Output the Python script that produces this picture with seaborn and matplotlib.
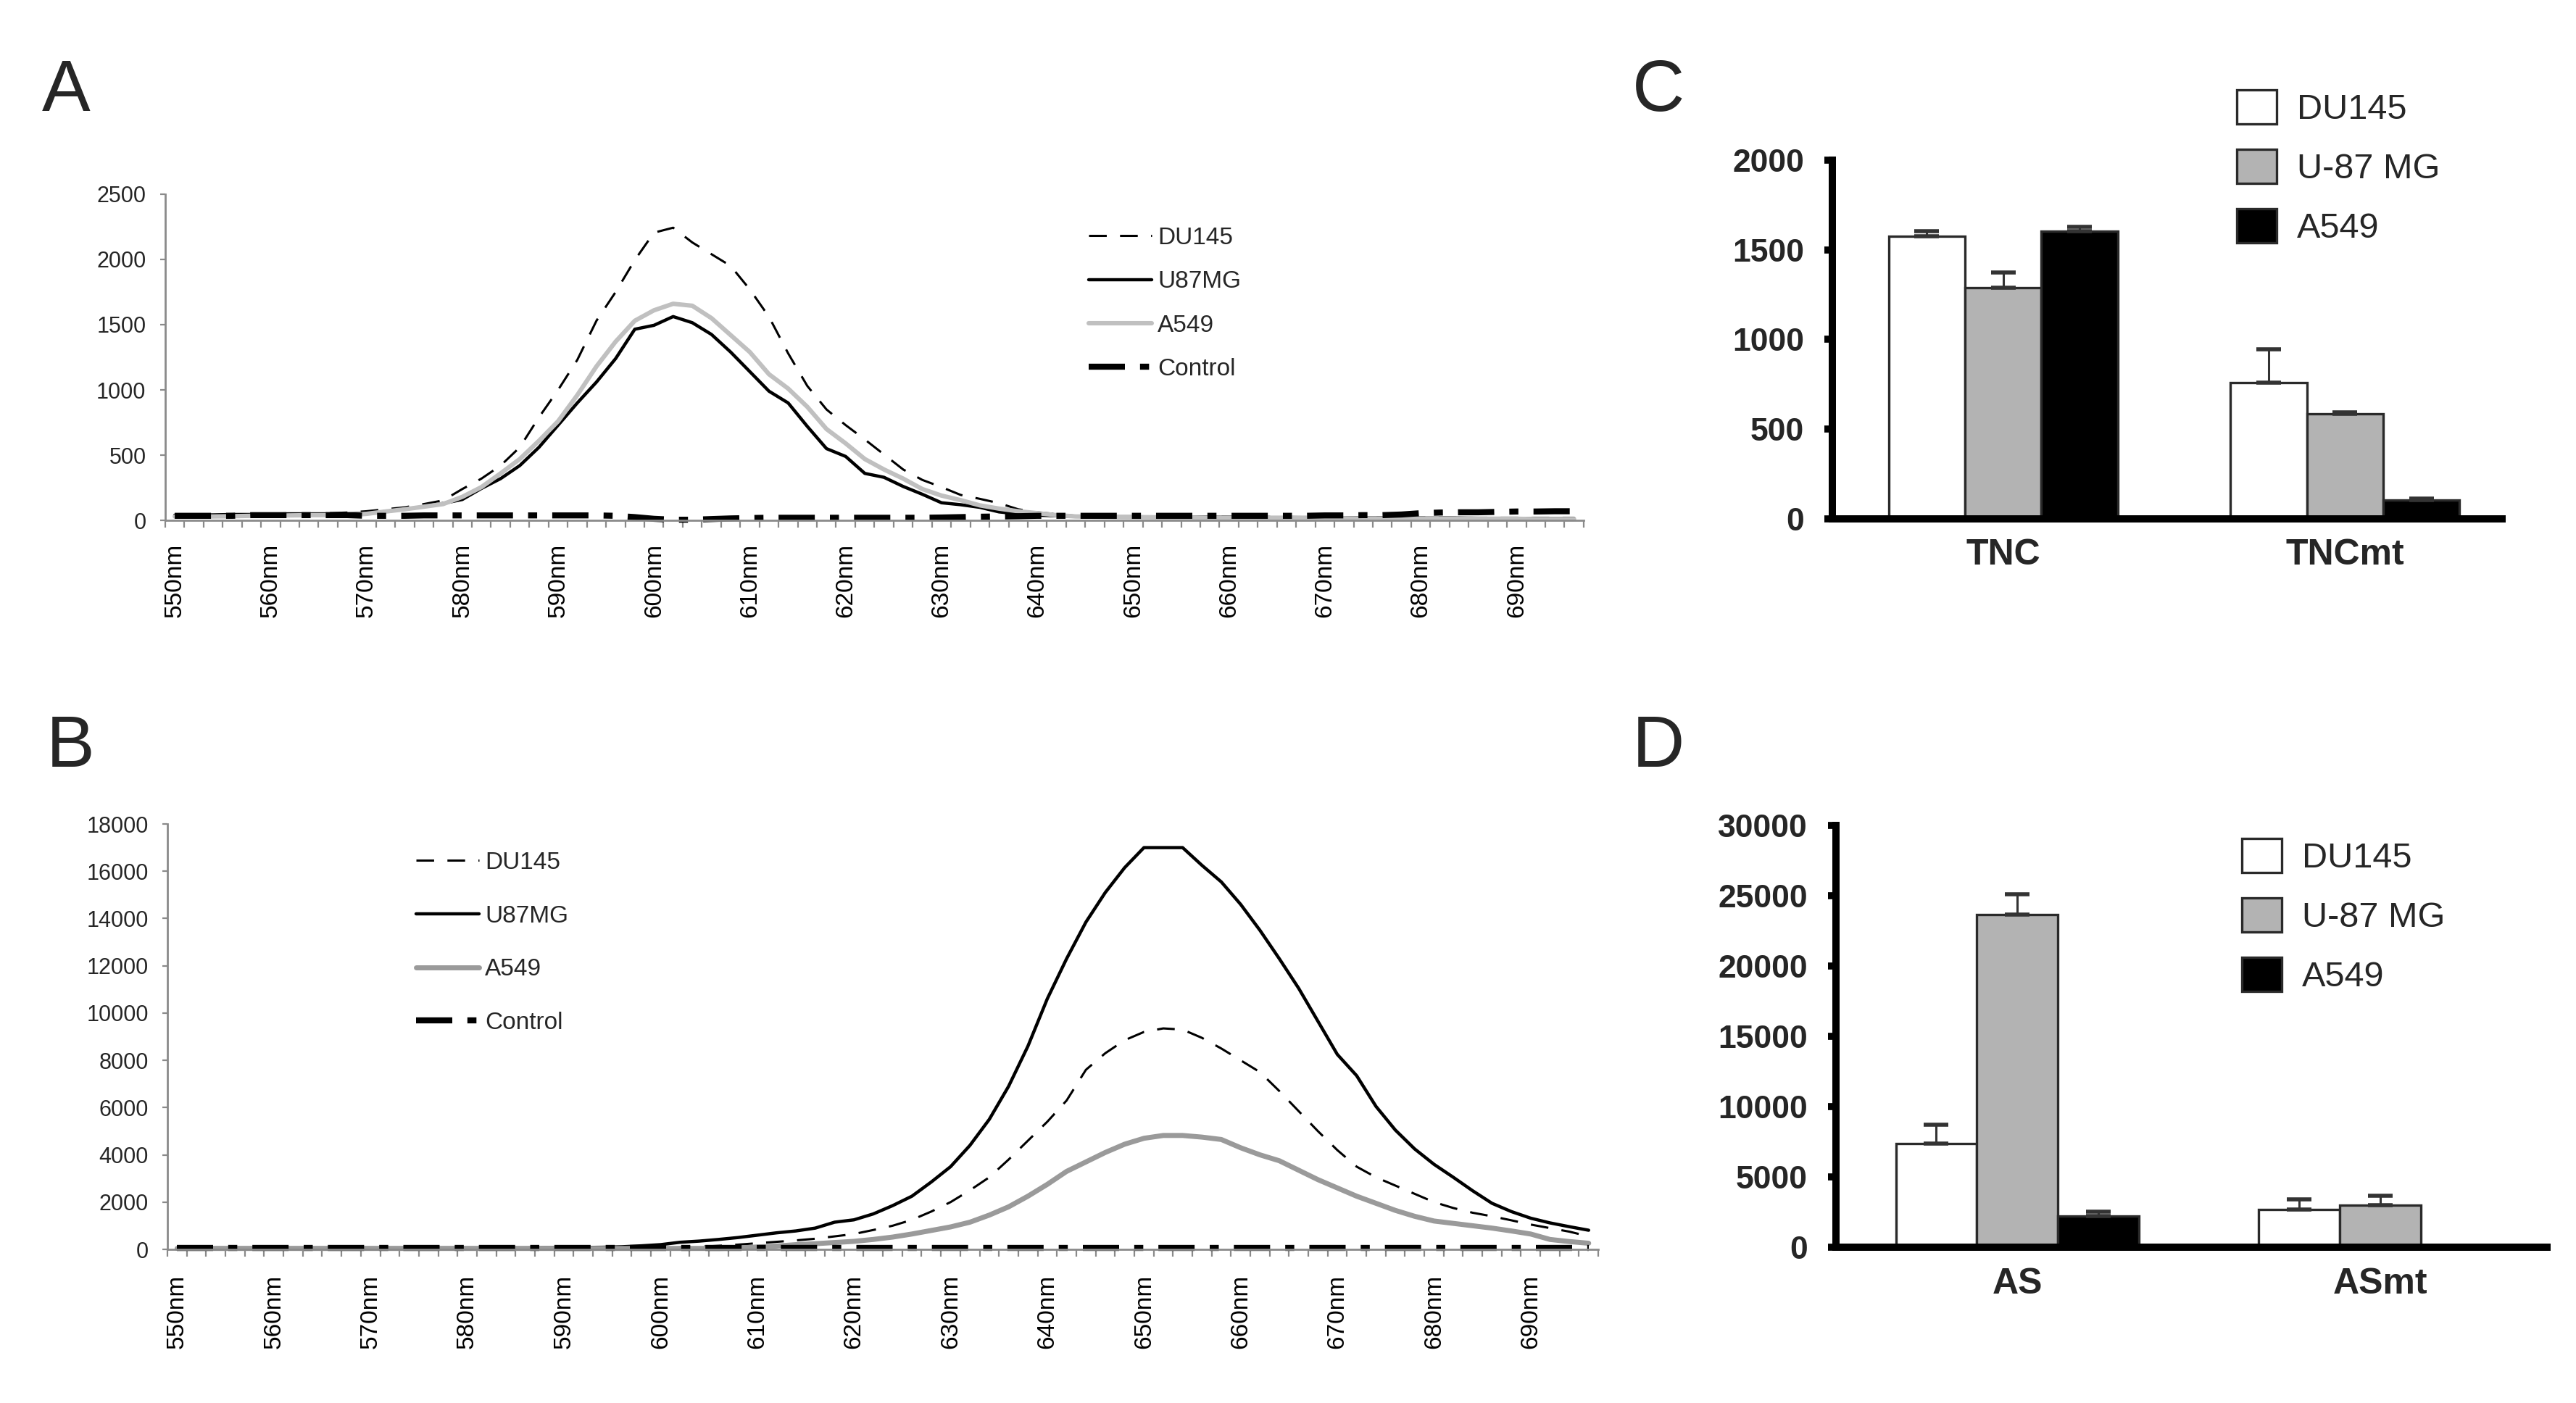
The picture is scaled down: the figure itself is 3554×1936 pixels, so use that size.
import numpy as np
import pandas as pd
import matplotlib
matplotlib.use("Agg")
import matplotlib.pyplot as plt
import seaborn as sns

# ---------------- data ----------------
wavelengths = list(range(550, 697, 2))          # category centres (nm)
wl_ticks = list(range(550, 691, 10))
wl_labels = [f"{w}nm" for w in wl_ticks]

# Panel A spectra
a_du145 = [30, 30, 35, 35, 40, 40, 45, 50, 55, 60,
           70, 85, 100, 125, 153, 240, 320, 420, 560, 790,
           1000, 1230, 1530, 1750, 1995, 2205, 2243, 2130, 2040, 1950,
           1770, 1560, 1280, 1030, 850, 730, 620, 505, 390, 310,
           255, 195, 165, 132, 85, 62, 48, 35, 30, 30,
           30, 30, 30, 30, 28, 28, 28, 26, 26, 25,
           25, 25, 24, 24, 22, 22, 22, 20, 20, 20,
           20, 20, 20, 20]
a_u87mg = [40, 40, 42, 45, 45, 48, 50, 50, 50, 50,
           55, 68, 85, 105, 130, 160, 245, 320, 420, 560,
           730, 900, 1060, 1240, 1465, 1495, 1562, 1515, 1425, 1290,
           1140, 990, 900, 720, 550, 490, 360, 330, 260, 200,
           135, 120, 100, 65, 50, 40, 35, 30, 30, 28,
           28, 26, 26, 25, 25, 24, 24, 22, 22, 22,
           20, 20, 20, 20, 18, 18, 18, 18, 16, 16,
           16, 15, 15, 15]
a_a549 = [30, 30, 30, 32, 35, 35, 38, 40, 40, 40,
          50, 68, 85, 105, 125, 180, 255, 360, 470, 610,
          760, 960, 1180, 1370, 1530, 1610, 1660, 1645, 1550, 1420,
          1290, 1120, 1010, 870, 700, 590, 470, 390, 320, 240,
          190, 155, 115, 90, 70, 55, 40, 30, 28, 26,
          25, 24, 22, 22, 20, 20, 20, 18, 18, 18,
          16, 16, 15, 15, 15, 14, 14, 12, 12, 12,
          12, 10, 10, 10]
a_control = [35, 35, 35, 35, 40, 40, 40, 40, 40, 40,
             35, 35, 35, 38, 38, 38, 38, 38, 38, 38,
             38, 38, 38, 35, 25, 12, 5, 5, 10, 15,
             18, 20, 20, 20, 20, 20, 20, 20, 20, 20,
             22, 25, 28, 30, 32, 35, 35, 35, 35, 35,
             35, 35, 35, 35, 35, 35, 35, 35, 35, 35,
             38, 38, 40, 40, 45, 55, 60, 62, 62, 65,
             68, 68, 70, 70]

# Panel B spectra
b_du145 = [40, 40, 40, 40, 40, 40, 40, 40, 40, 40,
           40, 40, 40, 40, 40, 40, 40, 40, 40, 40,
           40, 40, 40, 40, 40, 60, 80, 110, 150, 200,
           260, 320, 380, 450, 550, 650, 820, 1000, 1250, 1600,
           2000, 2500, 3050, 3800, 4600, 5400, 6300, 7600, 8300, 8850,
           9200, 9350, 9300, 8950, 8500, 8000, 7500, 6700, 5850, 5000,
           4200, 3500, 3050, 2700, 2350, 2000, 1750, 1550, 1400, 1230,
           1050, 900, 750, 550]
b_u87mg = [60, 60, 60, 60, 60, 60, 60, 60, 60, 60,
           60, 60, 60, 60, 60, 60, 60, 60, 60, 70,
           70, 80, 90, 110, 150, 200, 300, 350, 420, 500,
           600, 700, 780, 900, 1150, 1250, 1500, 1850, 2250, 2850,
           3500, 4400, 5500, 6900, 8600, 10600, 12300, 13850, 15100, 16150,
           17000, 17000, 17000, 16250, 15550, 14600, 13500, 12300, 11050, 9650,
           8250, 7350, 6050, 5050, 4250, 3600, 3050, 2480, 1950, 1600,
           1320, 1120, 960, 810]
b_a549 = [40, 40, 40, 40, 40, 40, 40, 40, 40, 40,
          40, 40, 40, 40, 40, 40, 40, 40, 40, 40,
          40, 40, 40, 40, 40, 40, 40, 40, 40, 60,
          100, 140, 200, 240, 290, 340, 420, 520, 650, 800,
          950, 1150, 1450, 1800, 2250, 2750, 3300, 3700, 4100, 4450,
          4700, 4820, 4820, 4750, 4650, 4300, 4000, 3750, 3350, 2950,
          2600, 2250, 1950, 1650, 1400, 1200, 1100, 1000, 900, 780,
          650, 420, 330, 260]
b_control = [50] * 74

series_names = ["DU145", "U87MG", "A549", "Control"]

# Panel C / D bar data
bar_cells = ["DU145", "U-87 MG", "A549"]
c_groups = ["TNC", "TNCmt"]
c_du145 = [1575, 758]
c_u87mg = [1288, 583]
c_a549 = [1603, 105]
c_du145_err = [30, 187]
c_u87mg_err = [85, 10]
c_a549_err = [25, 8]

d_groups = ["AS", "ASmt"]
d_du145 = [7360, 2660]
d_u87mg = [23650, 2990]
d_a549 = [2200, 0]
d_du145_err = [1330, 750]
d_u87mg_err = [1430, 680]
d_a549_err = [320, 0]

# ---------------- style ----------------
sns.set_theme(style="white")
plt.rcParams["font.family"] = ["Liberation Sans", "DejaVu Sans"]
plt.rcParams["axes.facecolor"] = "white"

W, H, DPI = 3555, 1936, 200
fig = plt.figure(figsize=(W / DPI, H / DPI), dpi=DPI)

axA = fig.add_axes([0.0641, 0.6291, 0.5505, 0.2325])
axB = fig.add_axes([0.0650, 0.1095, 0.5553, 0.3032])
axC = fig.add_axes([0.7111, 0.6304, 0.2600, 0.2554])
axD = fig.add_axes([0.7125, 0.1111, 0.2760, 0.3006])

AXGRAY = "#8a8a8a"


def spectrum_panel(ax, vals, a549_color, a549_lw, u87_lw, ymax, ystep,
                   leg_anchor, leg_spacing, xpad):
    du, u87, a549, ctl = vals
    sns.lineplot(x=wavelengths, y=du, ax=ax, color="black", lw=1.1,
                 linestyle=(0, (8, 6)), label="DU145", errorbar=None,
                 clip_on=False)
    sns.lineplot(x=wavelengths, y=u87, ax=ax, color="black", lw=u87_lw,
                 label="U87MG", errorbar=None, clip_on=False)
    sns.lineplot(x=wavelengths, y=a549, ax=ax, color=a549_color, lw=a549_lw,
                 label="A549", errorbar=None, clip_on=False)
    sns.lineplot(x=wavelengths, y=ctl, ax=ax, color="black", lw=3.0,
                 linestyle=(0, (6, 2.5, 1.5, 2.5)), label="Control",
                 errorbar=None, clip_on=False)
    ax.set_xlim(549, 697)
    ax.set_ylim(0, ymax)
    ax.set_yticks(np.arange(0, ymax + 1, ystep))
    ax.set_xticks(wl_ticks)
    ax.set_xticklabels(wl_labels, rotation=90, fontsize=12)
    ax.set_xticks(np.arange(549, 698, 2), minor=True)
    ax.tick_params(axis="x", which="major", length=0, pad=xpad,
                   labelcolor="black")
    ax.tick_params(axis="x", which="minor", length=3.6, width=0.8,
                   color=AXGRAY, bottom=True)
    ax.tick_params(axis="y", which="major", length=2.5, width=0.8,
                   color=AXGRAY, labelsize=11, pad=7, left=True)
    for s in ["top", "right"]:
        ax.spines[s].set_visible(False)
    for s in ["left", "bottom"]:
        ax.spines[s].set_color(AXGRAY)
        ax.spines[s].set_linewidth(1.0)
    ax.set_xlabel("")
    ax.set_ylabel("")
    ax.grid(False)
    h, l = ax.get_legend_handles_labels()
    ax.legend(h, l, loc="upper left", bbox_to_anchor=leg_anchor,
              bbox_transform=fig.transFigure, frameon=False, fontsize=12,
              handlelength=2.6, handletextpad=0.25, labelspacing=leg_spacing,
              borderpad=0, borderaxespad=0)


spectrum_panel(axA, (a_du145, a_u87mg, a_a549, a_control), "#c0c0c0", 2.2,
               1.6, 2500, 500, (1502 / W, 1 - 313 / H), 0.88, 11.5)
spectrum_panel(axB, (b_du145, b_u87mg, b_a549, b_control), "#9a9a9a", 2.5,
               1.6, 18000, 2000, (574 / W, 1 - 1175 / H), 1.28, 12.5)


def bar_panel(ax, groups, vals, errs, ymax, ystep, leg_anchor):
    df = pd.DataFrame({
        "group": groups * 3,
        "cell": sum([[c] * len(groups) for c in bar_cells], []),
        "value": vals[0] + vals[1] + vals[2],
    })
    sns.barplot(data=df, x="group", y="value", hue="cell", order=groups,
                hue_order=bar_cells, palette=["white", "#b3b3b3", "black"],
                saturation=1, width=0.67, edgecolor="#2a2a2a", linewidth=1.2,
                errorbar=None, ax=ax)
    for cont, v, e in zip(ax.containers, vals, errs):
        xs, ys, es = [], [], []
        for b, val, err in zip(cont, v, e):
            if val == 0:
                b.set_linewidth(0)
            if err > 0:
                xs.append(b.get_x() + b.get_width() / 2)
                ys.append(val)
                es.append(err)
        if xs:
            ax.errorbar(xs, ys, yerr=[[0] * len(es), es], fmt="none",
                        ecolor="#333333", elinewidth=1.1, capsize=6,
                        capthick=2.0, zorder=3)
    ax.set_xlim(-0.5, 1.46)
    ax.set_ylim(0, ymax)
    ax.set_yticks(np.arange(0, ymax + 1, ystep))
    ax.set_yticklabels([str(int(t)) for t in np.arange(0, ymax + 1, ystep)],
                       fontsize=16, fontweight="bold")
    ax.set_xticks(range(len(groups)))
    ax.set_xticklabels(groups, fontsize=18, fontweight="bold")
    ax.tick_params(axis="x", length=0, pad=10)
    ax.tick_params(axis="y", length=4, width=3.5, color="black", pad=10,
                   left=True)
    for s in ["top", "right"]:
        ax.spines[s].set_visible(False)
    for s in ["left", "bottom"]:
        ax.spines[s].set_color("black")
        ax.spines[s].set_linewidth(3.6)
    ax.set_xlabel("")
    ax.set_ylabel("")
    ax.grid(False)
    handles = [cont[0] for cont in ax.containers]
    ax.legend(handles, bar_cells, loc="upper left", bbox_to_anchor=leg_anchor,
              bbox_transform=fig.transFigure, frameon=False, fontsize=17.5,
              handlelength=1.13, handleheight=1.11, handletextpad=0.58,
              labelspacing=0.66, borderpad=0, borderaxespad=0)


bar_panel(axC, c_groups, [c_du145, c_u87mg, c_a549],
          [c_du145_err, c_u87mg_err, c_a549_err], 2000, 500,
          (3086 / W, 1 - 124 / H))
bar_panel(axD, d_groups, [d_du145, d_u87mg, d_a549],
          [d_du145_err, d_u87mg_err, d_a549_err], 30000, 5000,
          (3093 / W, 1 - 1157 / H))

# panel letters
for txt, x, y in [("A", 58, 153), ("B", 64, 1058), ("C", 2252, 153),
                  ("D", 2252, 1058)]:
    fig.text(x / W, 1 - y / H, txt, fontsize=36, va="baseline", ha="left")

fig.savefig("out.png", dpi=DPI, facecolor="white")
